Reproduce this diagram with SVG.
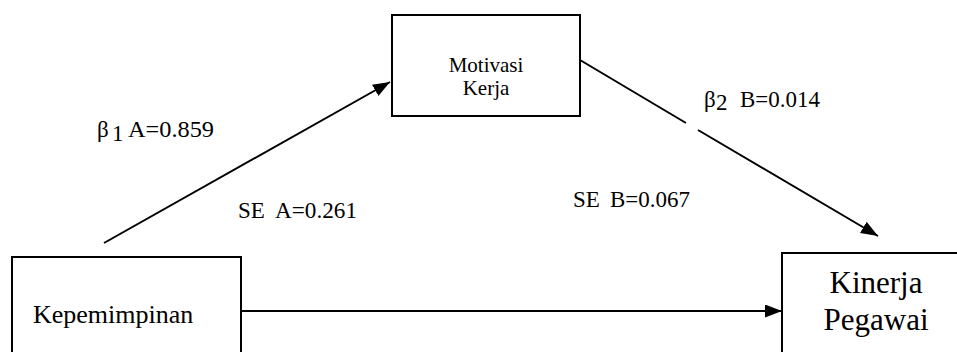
<svg xmlns="http://www.w3.org/2000/svg" width="957" height="352" viewBox="0 0 957 352">
<style>
.box{fill:#fff;stroke:#000;stroke-width:2}
.ln{fill:none;stroke:#000;stroke-width:2}
text{font-family:"Liberation Serif","Times New Roman","DejaVu Serif",serif;fill:#000}
.lbl{font-size:23px}
</style>
<defs>
<marker id="ah" markerUnits="userSpaceOnUse" markerWidth="18" markerHeight="14" refX="17" refY="6.5" orient="auto">
<path d="M0,0 L17,6.5 L0,13 z" fill="#000"/>
</marker>
</defs>
<rect width="957" height="352" fill="#fff"/>
<g id="connectors">
<line class="ln" x1="104" y1="243" x2="390" y2="82" marker-end="url(#ah)"/>
<path class="ln" d="M580,60 L686,123 M698,130 L878,236" marker-end="url(#ah)"/>
<line class="ln" x1="241" y1="311" x2="782" y2="311" marker-end="url(#ah)"/>
</g>
<g id="node-motivasi">
<rect class="box" x="392" y="15" width="188" height="101"/>
<text x="486" y="72" font-size="21" text-anchor="middle">Motivasi</text>
<text x="486" y="95" font-size="21" text-anchor="middle">Kerja</text>
</g>
<g id="node-kepemimpinan">
<rect class="box" x="12" y="257" width="229" height="110"/>
<text x="33" y="323" font-size="26">Kepemimpinan</text>
</g>
<g id="node-kinerja">
<rect class="box" x="782" y="253" width="190" height="120"/>
<text x="876" y="293" font-size="31" text-anchor="middle">Kinerja</text>
<text x="876" y="330" font-size="31" text-anchor="middle">Pegawai</text>
</g>
<g id="labels">
<text class="lbl" x="97" y="137" font-size="25">β</text>
<text class="lbl" x="112" y="141">1</text>
<text class="lbl" x="128" y="137" textLength="86" lengthAdjust="spacingAndGlyphs">A=0.859</text>
<text class="lbl" x="238" y="218">SE</text>
<text class="lbl" x="275" y="218" textLength="82" lengthAdjust="spacingAndGlyphs">A=0.261</text>
<text class="lbl" x="704" y="107" font-size="25">β</text>
<text class="lbl" x="716" y="110">2</text>
<text class="lbl" x="740" y="107" textLength="80" lengthAdjust="spacingAndGlyphs">B=0.014</text>
<text class="lbl" x="573" y="207">SE</text>
<text class="lbl" x="610" y="207" textLength="80" lengthAdjust="spacingAndGlyphs">B=0.067</text>
</g>
</svg>
